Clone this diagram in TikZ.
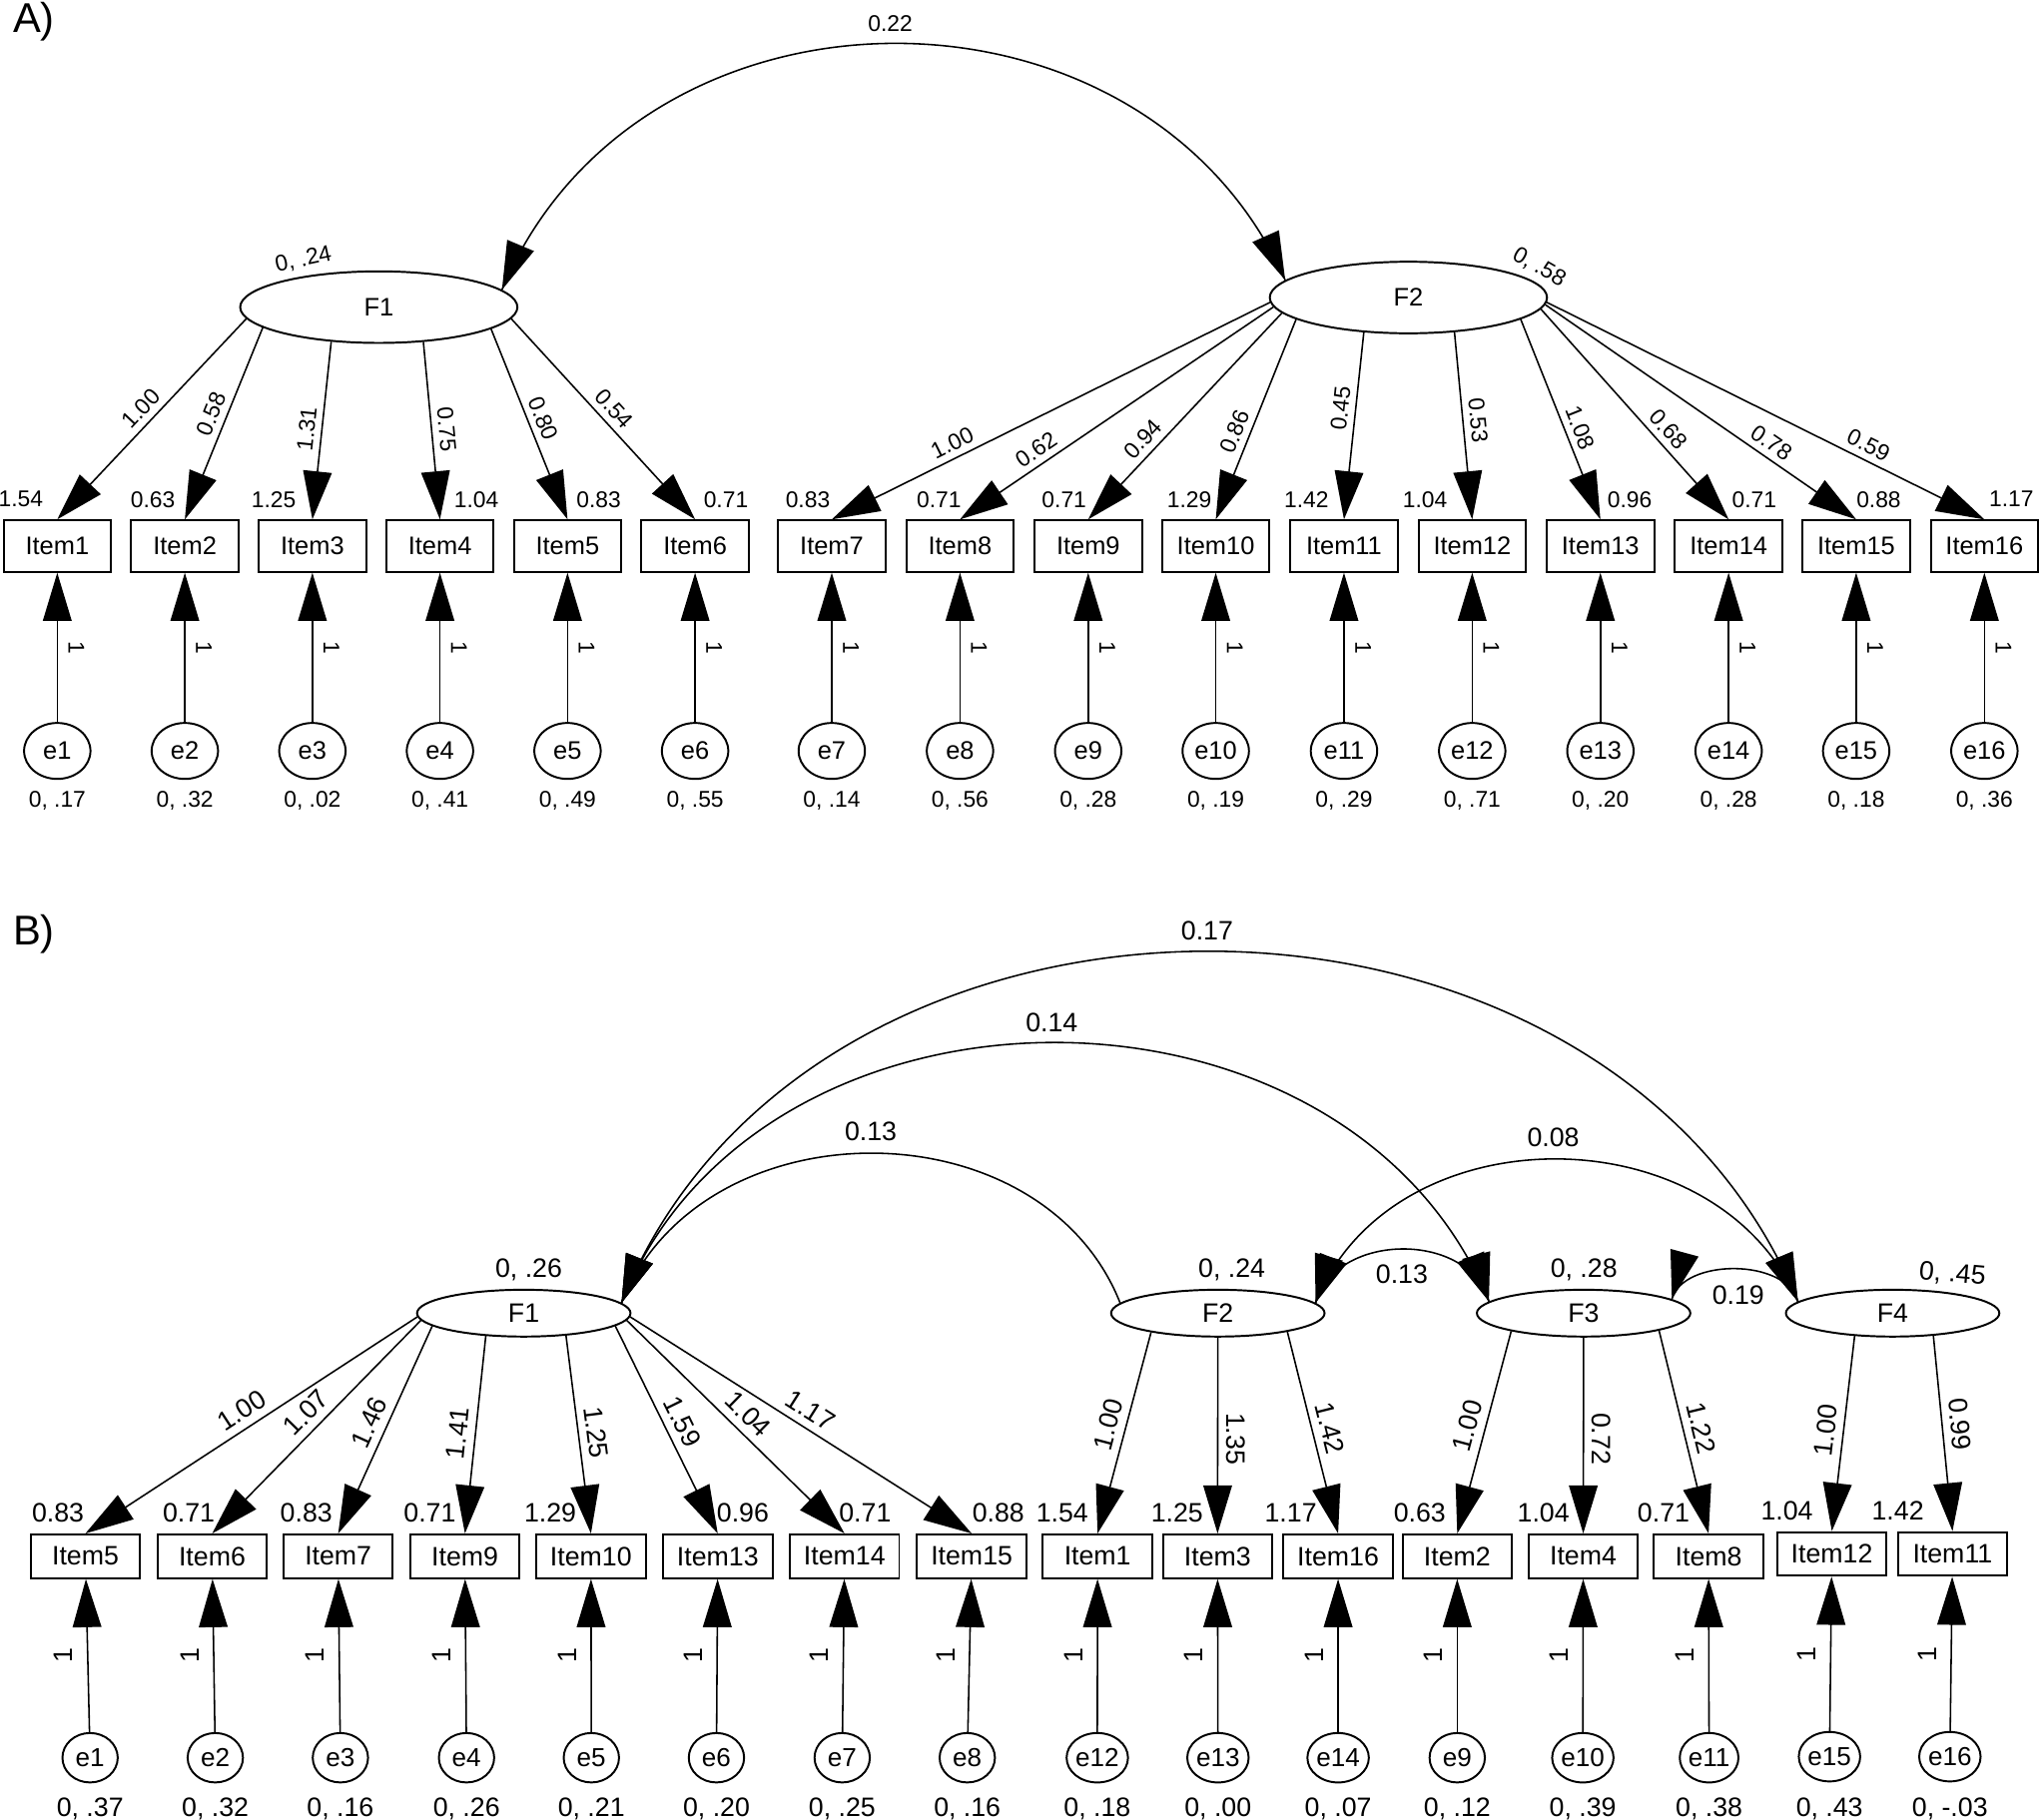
\documentclass[tikz,border=0pt]{standalone}
\usepackage{fontspec}
\setmainfont{Liberation Sans}
\usetikzlibrary{arrows.meta,shapes.geometric,decorations.markings}
\newcommand{\fsz}[1]{\fontsize{#1}{#1}\selectfont}
\tikzset{
 arr/.style={line width=1.2pt, -{Triangle[length=37pt,width=22pt]}},
 cov/.style={line width=1.2pt, postaction={decorate}, decoration={markings,
   mark=at position 0 with {\arrowreversed{Triangle[length=37pt,width=22pt]}},
   mark=at position 0.9999 with {\arrow{Triangle[length=37pt,width=22pt]}}}},
 itemA/.style={draw, line width=1.5pt, minimum width=82.5pt, minimum height=39.5pt, inner sep=0pt, font=\fsz{19.5}},
 itemB/.style={itemA, minimum width=84pt, minimum height=33.5pt, font=\fsz{20.5}},
 latA/.style={ellipse, draw, line width=1.5pt, minimum width=213pt, minimum height=55pt, inner sep=0pt, font=\fsz{19.5}},
 latB/.style={latA, minimum width=164pt, minimum height=36pt, font=\fsz{20.5}},
 errA/.style={ellipse, draw, line width=1.5pt, minimum width=51pt, minimum height=43pt, inner sep=0pt, font=\fsz{19.5}},
 errB/.style={errA, minimum width=42.5pt, minimum height=38pt, font=\fsz{20}},
 numA/.style={font=\fsz{17.5}, inner sep=0pt, text depth=0pt},
 numB/.style={font=\fsz{20.5}, inner sep=0pt, text depth=0pt},
 ldA/.style={font=\fsz{17.5}, sloped, above, inner sep=5pt, text depth=0pt},
 ldB/.style={font=\fsz{20.5}, sloped, above, inner sep=6pt, text depth=0pt},
 panel/.style={font=\fsz{32}, inner sep=0pt},
}
\begin{document}
\begin{tikzpicture}[x=1pt,y=-1pt]
\fill[white] (0,0) rectangle (1568,1398);
\useasboundingbox (0,0) rectangle (1568,1398);

% ================= Panel A =================
\node[panel] (LA) at (26,17) {A)};
\node[latA] (AF1) at (291,236) {F1};
\node[latA] (AF2) at (1082,228.6) {F2};
\node[numA, rotate=12] (AFV1) at (232.9,198.5) {0, .24};
\node[numA, rotate=-30] (AFV2) at (1183,204.4) {0, .58};

\foreach \i/\x/\ev in {1/44/.17, 2/142/.32, 3/240/.02, 4/338/.41, 5/436/.49, 6/534/.55, 7/639/.14, 8/737.5/.56, 9/836/.28, 10/934/.19, 11/1032.5/.29, 12/1131/.71, 13/1229.5/.20, 14/1328/.28, 15/1426/.18, 16/1524.5/.36}{
  \node[itemA] (AI\i) at (\x,419.6) {Item\i};
  \node[errA] (AE\i) at (\x,577) {e\i};
  \node[numA] (AEV\i) at (\x,614.4) {0, \ev};
  \draw[arr] (AE\i) -- (AI\i) node[numA, pos=0.5, xshift=14.7pt, rotate=-90] (AO\i) {1};
}
\foreach \i/\x/\v in {1/16/1.54, 2/117.4/0.63, 3/210.3/1.25, 4/366/1.04, 5/460/0.83, 6/557.7/0.71, 7/620.6/0.83, 8/721.3/0.71, 9/817.5/0.71, 10/913.7/1.29, 11/1003.6/1.42, 12/1094.8/1.04, 13/1252/0.96, 14/1347.7/0.71, 15/1443.3/0.88, 16/1545.2/1.17}{
  \node[numA] (AV\i) at (\x,383.6) {\v};
}
\foreach \i/\a/\l/\p in {1/185/1.00/0.5, 2/190/0.58/0.48, 3/216/1.31/0.5, 4/322/0.75/0.5, 5/349/0.80/0.5, 6/355/0.54/0.5}{
  \draw[arr] (AF1.\a) -- (AI\i.north) node[ldA, pos=\p] (AL\i) {\l};
}
\foreach \i/\a/\l/\p in {7/182/1.00/0.71, 8/184/0.62/0.73, 9/187/0.94/0.66, 10/191/0.86/0.59, 11/218/0.45/0.415, 12/323/0.53/0.48, 13/349/1.08/0.57, 14/355/0.68/0.62, 15/357/0.78/0.7, 16/358/0.59/0.72}{
  \draw[arr] (AF2.\a) -- (AI\i.north) node[ldA, pos=\p] (AL\i) {\l};
}
\draw[cov] (AF1.8) .. controls (491,-28.6) and (879,-28.6) .. (AF2.172);
\node[numA] (AC12) at (684,18.4) {0.22};

% ================= Panel B =================
\node[panel] (LB) at (26,718) {B)};
\node[latB] (BF1) at (402.4,1009) {F1};
\node[latB] (BF2) at (935.6,1009) {F2};
\node[latB] (BF3) at (1216.6,1009) {F3};
\node[latB] (BF4) at (1454,1009) {F4};
\node[numB] (BFV1) at (406.2,974.2) {0, .26};
\node[numB] (BFV2) at (946.3,974.2) {0, .24};
\node[numB] (BFV3) at (1216.8,974.2) {0, .28};
\node[numB, rotate=-5] (BFV4) at (1500,978) {0, .45};

\foreach \i/\x/\y/\e/\ex/\ey/\ev/\vx/\vy/\v in {
  5/65.6/1195.8/1/69.2/1350.6/.37/44.5/1162.5/0.83,
  6/163/1195.8/2/165.4/1350.6/.32/145/1162.5/0.71,
  7/259.8/1195.8/3/261.5/1350.6/.16/235.3/1162.5/0.83,
  9/357.2/1195.8/4/358.4/1350.6/.26/330.2/1162.5/0.71,
  10/454/1195.8/5/454.3/1350.6/.21/422.7/1162.5/1.29,
  13/551.4/1195.8/6/550.4/1350.6/.20/570.7/1162.5/0.96,
  14/648.8/1195.8/7/647/1350.6/.25/664.6/1162.5/0.71,
  15/746.5/1195.8/8/743.1/1350.6/.16/767/1162.5/0.88,
  1/843.2/1195.8/12/843/1350.6/.18/816.1/1162.5/1.54,
  3/935.4/1195.8/13/935.7/1350.6/.00/904.3/1162.5/1.25,
  16/1028/1195.8/14/1028/1350.6/.07/991.6/1162.5/1.17,
  2/1119.5/1195.8/9/1119.5/1350.6/.12/1090.7/1162.5/0.63,
  4/1216.3/1195.8/10/1216/1350.6/.39/1185.7/1162.5/1.04,
  8/1312.6/1195.8/11/1313/1350.6/.38/1278/1162.5/0.71,
  12/1407.3/1194/15/1405.5/1349.8/.43/1372.8/1160.4/1.04,
  11/1500/1194/16/1498/1349.8/-.03/1458/1160.4/1.42}{
  \node[itemB] (BI\i) at (\x,\y) {Item\i};
  \node[errB] (BE\e) at (\ex,\ey) {e\e};
  \node[numB] (BEV\e) at (\ex,1388.3) {0, \ev};
  \node[numB] (BV\i) at (\vx,\vy) {\v};
  \draw[arr] (BE\e) -- (BI\i) node[numB, pos=0.5, xshift=-18.5pt, rotate=90] (BO\e) {1};
}
\foreach \i/\a/\l/\p in {5/182/1.00/0.5, 6/184/1.07/0.49, 7/188/1.46/0.5, 9/211/1.41/0.5, 10/332/1.25/0.5, 13/352/1.59/0.5, 14/356/1.04/0.5, 15/358/1.17/0.5}{
  \draw[arr] (BF1.\a) -- (BI\i.north) node[ldB, pos=\p] (BL\i) {\l};
}
\foreach \f/\i/\a/\l/\p in {2/1/196/1.00/0.48, 2/16/345/1.42/0.5, 3/2/194/1.00/0.49, 3/8/347/1.22/0.5, 4/12/211/1.00/0.495, 4/11/331/0.99/0.46}{
  \draw[arr] (BF\f.\a) -- (BI\i.north) node[ldB, pos=\p] (BL\i) {\l};
}
\draw[arr] (BF2.270) -- (BI3.north) node[ldB, allow upside down, pos=0.516] (BL3) {1.35};
\draw[arr] (BF3.270) -- (BI4.north) node[ldB, allow upside down, pos=0.516] (BL4) {0.72};
\draw[cov] (BF1.6) .. controls (539.3,847.7) and (799.7,847.7) .. (BF2.174);
\draw[cov] (BF1.6) .. controls (584,734.5) and (1035,734.5) .. (BF3.173);
\draw[cov] (BF1.6) .. controls (621.8,641) and (1233.2,641) .. (BF4.173);
\draw[cov] (BF2.6) .. controls (1069.2,853.8) and (1318.3,853.8) .. (BF4.173);
\draw[cov] (BF2.6) .. controls (1026.5,946) and (1129,946) .. (BF3.173);
\draw[cov] (BF3.9) .. controls (1293,966.6) and (1372.4,966.6) .. (BF4.173);
\node[numB] (BC12) at (669,869.4) {0.13};
\node[numB] (BC13) at (808,785.5) {0.14};
\node[numB] (BC14) at (927.4,714.7) {0.17};
\node[numB] (BC24) at (1193.3,874) {0.08};
\node[numB] (BC23) at (1077,979.3) {0.13};
\node[numB] (BC34) at (1335.4,994.7) {0.19};
\end{tikzpicture}
\end{document}
